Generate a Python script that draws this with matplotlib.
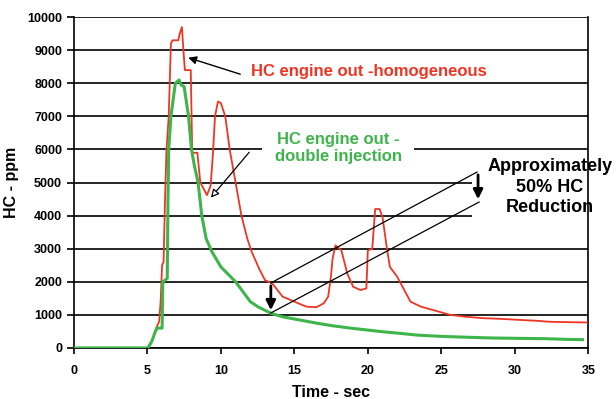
import numpy as np
import matplotlib.pyplot as plt
from matplotlib.patches import Rectangle

plt.rcParams['font.family'] = ['Liberation Sans', 'DejaVu Sans']

# HC engine out - homogeneous (red)
t_homog = [0, 5.0, 5.2, 5.4, 5.6, 5.8, 5.9, 6.0, 6.1, 6.2, 6.3, 6.45, 6.6, 6.7, 7.1, 7.2,
           7.35, 7.45, 7.55, 7.95, 8.05, 8.4, 8.6, 9.05, 9.3, 9.45, 9.6, 9.8, 10.0, 10.3,
           10.6, 11.0, 11.4, 11.8, 12.1, 12.6, 13.0, 13.5, 14.2, 15.0, 15.8, 16.5, 17.0,
           17.3, 17.5, 17.6, 17.8, 18.2, 18.6, 19.0, 19.5, 19.9, 20.0, 20.3, 20.5, 20.8,
           21.0, 21.3, 21.5, 22.0, 22.9, 23.6, 24.4, 25.6, 26.5, 27.8, 29.0, 30.2, 31.5,
           32.4, 33.5, 34.9]
hc_homog = [0, 0, 100, 300, 600, 800, 1400, 2500, 2600, 4500, 6000, 7000, 9200, 9300, 9300, 9500,
            9700, 9000, 8400, 8400, 5900, 5900, 5000, 4620, 4900, 5800, 7000, 7450, 7400, 7000,
            6000, 5000, 4000, 3300, 2900, 2400, 2050, 1950, 1550, 1400, 1250, 1230, 1350,
            1550, 2200, 2700, 3100, 2950, 2250, 1850, 1750, 1800, 2950, 3000, 4200, 4200,
            3950, 3000, 2450, 2150, 1400, 1250, 1150, 1000, 950, 900, 880, 850, 820,
            790, 780, 770]

# HC engine out - double injection (green)
t_double = [0, 5.0, 5.1, 5.3, 5.5, 5.65, 6.0, 6.05, 6.35, 6.4, 6.45, 6.6, 6.9, 7.15, 7.3,
            7.5, 7.8, 8.0, 8.2, 8.45, 8.7, 9.0, 9.4, 10.0, 11.0, 12.0, 12.5, 13.4, 14.2,
            15.3, 16.5, 17.6, 18.8, 20.0, 21.0, 22.2, 23.3, 24.5, 25.6, 27.0, 28.5, 30.2,
            32.0, 33.5, 34.6]
hc_double = [0, 0, 50, 200, 450, 600, 600, 2000, 2100, 4500, 6000, 7000, 8000, 8100, 7950,
             7900, 7000, 6000, 5500, 5000, 4000, 3300, 2900, 2450, 2000, 1400, 1250, 1050, 940,
             850, 750, 670, 600, 540, 490, 440, 390, 360, 340, 320, 300, 290,
             280, 260, 250]

yticks = list(range(0, 10001, 1000))
xticks = [0, 5, 10, 15, 20, 25, 30, 35]

red = '#EE3524'
green = '#3DB54A'

fig = plt.figure(figsize=(6.16, 3.99), dpi=100)
ax = fig.add_axes([0.120, 0.128, 0.835, 0.829])

ax.plot(t_homog, hc_homog, color=red, lw=1.3, zorder=3)
ax.plot(t_double, hc_double, color=green, lw=2.2, zorder=3)

ax.set_xlim(0, 35)
ax.set_ylim(0, 10000)
ax.set_yticks(yticks)
ax.set_xticks(xticks)
ax.yaxis.grid(True, color='black', lw=1.2)
ax.set_axisbelow(True)
ax.spines['top'].set_visible(False)
for s in ['left', 'bottom', 'right']:
    ax.spines[s].set_linewidth(1.2)
ax.tick_params(axis='y', length=5, width=1.2, labelsize=9)
ax.tick_params(axis='x', length=4, width=1.2, labelsize=9, pad=8)
for lab in ax.get_xticklabels() + ax.get_yticklabels():
    lab.set_fontweight('bold')

ax.set_xlabel('Time - sec', fontsize=11.5, fontweight='bold', labelpad=6)
ax.set_ylabel('HC - ppm', fontsize=11.5, fontweight='bold', labelpad=6)

# white area behind the reduction note
ax.add_patch(Rectangle((0.774, 0.378), 0.3, 0.219, transform=ax.transAxes,
                       facecolor='white', edgecolor='none', zorder=2, clip_on=False))

ax.text(20.05, 8370, 'HC engine out -homogeneous', color=red, fontsize=12,
        fontweight='bold', ha='center', va='center', zorder=4)
ax.text(18.0, 6040, 'HC engine out -\ndouble injection', color=green, fontsize=12,
        fontweight='bold', ha='center', va='center', linespacing=1.15, zorder=4,
        bbox=dict(facecolor='white', edgecolor='none', pad=9))
ax.text(32.4, 4864, 'Approximately\n50% HC\nReduction', color='black', fontsize=13,
        fontweight='bold', ha='center', va='center', linespacing=1.3, zorder=4,
        clip_on=False)

# pointer arrows
ax.annotate('', xy=(7.6, 8800), xytext=(11.5, 8250),
            arrowprops=dict(arrowstyle='-|>', color='black', lw=1.0, mutation_scale=12), zorder=5)
ax.annotate('', xy=(9.2, 4480), xytext=(12.05, 5980),
            arrowprops=dict(arrowstyle='-|>', color='black', fc='white', lw=0.9,
                            mutation_scale=12), zorder=5)

# reduction bracket
ax.plot([13.4, 27.43], [1964, 5317], color='black', lw=0.9, zorder=5)
ax.plot([13.4, 27.57], [1057, 4411], color='black', lw=0.9, zorder=5)
ax.annotate('', xy=(13.4, 1057), xytext=(13.4, 1964),
            arrowprops=dict(arrowstyle='-|>', color='black', lw=2.0, mutation_scale=14), zorder=5)
ax.annotate('', xy=(27.5, 4411), xytext=(27.5, 5317),
            arrowprops=dict(arrowstyle='-|>', color='black', lw=2.0, mutation_scale=14), zorder=5)

fig.savefig('out.png', dpi=100)
